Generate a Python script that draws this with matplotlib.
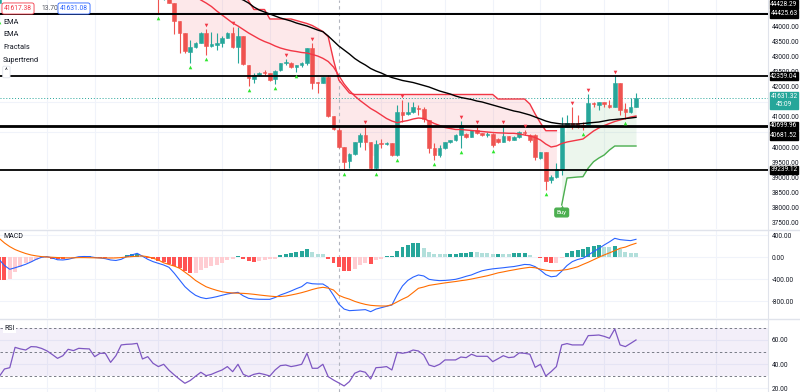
import matplotlib
matplotlib.use("Agg")
import matplotlib.pyplot as plt
import matplotlib.transforms as mtransforms
from matplotlib.lines import Line2D
from matplotlib.ticker import FormatStrFormatter

plt.rcParams['font.family'] = ['Roboto', 'DejaVu Sans']

# ---------------- data ----------------
candle_idx = [0] + list(range(30, 121))
opens = [44780,
         45050, 44980, 45080, 44784, 44186, 43787, 43156, 43322, 43455, 43787,
         43356, 43389, 43455, 43621, 43787, 43322, 43688, 42724, 42260, 42392,
         42490, 42459, 42260, 42558, 42791, 42791, 42658, 42724, 42791, 43289,
         42160, 42127, 42326, 41031, 40565, 40000, 39535, 39768, 40166, 40399,
         40166, 39303, 40133, 40100, 40133, 39735, 41163, 41097, 41163, 41296,
         41263, 40898, 39967, 39735, 39967, 40166, 40233, 40399, 40432, 40333,
         40565, 40466, 40399, 40433, 40266, 40166, 40366, 40233, 40333, 40499,
         40399, 40399, 39620, 39835, 38904, 39004, 39237, 40665, 40798, 40798,
         40720, 40731, 41462, 41400, 41495, 41396, 41329, 42127, 41263, 41163,
         41329]
highs = [45100,
         45200, 45150, 45120, 44800, 44190, 43800, 43555, 43489, 43821, 43920,
         43821, 43787, 43688, 43821, 43987, 43987, 43700, 42740, 42459, 42490,
         42558, 42470, 42558, 42800, 42924, 42824, 42740, 42824, 43300, 43455,
         42160, 42340, 42392, 41040, 40632, 40010, 39800, 40180, 40466, 40698,
         40180, 40233, 40266, 40166, 40150, 41396, 41562, 41500, 41495, 41396,
         41329, 40910, 40133, 40067, 40180, 40250, 40420, 40864, 40450, 40580,
         40698, 40480, 40499, 40450, 40290, 40698, 40380, 40350, 40540, 40565,
         40430, 40420, 39840, 39850, 39071, 39469, 40998, 41063, 41329, 41063,
         40831, 41761, 41495, 41500, 41510, 41562, 42359, 42140, 41462, 41628,
         41795]
lows = [44290,
        44430, 44900, 44770, 43754, 43123, 43123, 42791, 43289, 43440, 43057,
        43322, 43223, 43322, 43610, 43289, 42791, 42724, 42027, 42127, 42360,
        42392, 42200, 42093, 42540, 42724, 42640, 42492, 42658, 42724, 41927,
        41794, 42127, 40998, 40580, 39967, 39239, 39303, 39750, 40000, 39901,
        39280, 39239, 39967, 40067, 39700, 39702, 40831, 41063, 41130, 41063,
        40831, 39800, 39569, 39668, 39950, 40150, 40200, 39967, 40300, 40320,
        40432, 40380, 40333, 40000, 40150, 40166, 40200, 40220, 40300, 40400,
        40166, 39569, 39600, 38572, 38800, 38970, 39071, 40650, 40599, 40630,
        40565, 40731, 41329, 41230, 41330, 41300, 41320, 41063, 40931, 41130,
        41320]
closes = [45000,
          44980, 45080, 44784, 44186, 43787, 43190, 43322, 43455, 43787, 43356,
          43422, 43455, 43621, 43787, 43322, 43688, 42758, 42293, 42392, 42459,
          42459, 42226, 42525, 42791, 42824, 42658, 42724, 42791, 43289, 42127,
          42127, 42326, 41031, 40599, 40000, 39502, 39768, 40166, 40399, 40166,
          39303, 40100, 40100, 40133, 39735, 41163, 41063, 41163, 41329, 41263,
          40931, 39967, 39735, 39967, 40166, 40233, 40399, 40731, 40333, 40565,
          40466, 40399, 40433, 40067, 40166, 40366, 40233, 40333, 40499, 40466,
          40233, 39668, 39820, 38871, 38990, 39270, 40665, 40798, 40731, 40665,
          40650, 41462, 41430, 41495, 41430, 41329, 42127, 41230, 41163, 41329,
          41631]

fractal_up_idx = [39, 44, 54, 59, 69, 76, 87, 90, 95, 99, 108, 111, 116]
fractal_down_idx = [0, 30, 36, 39, 47, 52, 56, 65, 71, 75, 82, 87, 93, 103, 110, 118]

ema_red_idx = list(range(36, 121))
ema_red = [45110, 45000, 44884, 44784, 44668, 44519, 44386, 44253, 44120, 44020,
           43904, 43788, 43688, 43588, 43505, 43439, 43356, 43289, 43240, 43200,
           43173, 43140, 43123, 43074, 43024, 42947, 42841, 42658, 42376, 42094,
           41878, 41695, 41545, 41413, 41280, 41180, 41064, 40947, 40864, 40808,
           40848, 40881, 40931, 40964, 40947, 40864, 40781, 40715, 40648, 40615,
           40582, 40582, 40565, 40549, 40532, 40516, 40499, 40482, 40472, 40466,
           40456, 40456, 40433, 40399, 40366, 40316, 40233, 40100, 40001, 40034,
           40117, 40167, 40200, 40233, 40266, 40399, 40532, 40632, 40715, 40781,
           40848, 40898, 40947, 40997, 41031]
ema_black_idx = list(range(44, 121))
ema_black = [45000, 44950, 44884, 44784, 44651, 44552, 44485, 44419, 44352, 44286,
             44236, 44186, 44120, 44070, 44020, 43954, 43887, 43831, 43688, 43522,
             43356, 43223, 43090, 42941, 42824, 42725, 42608, 42525, 42459, 42376,
             42309, 42260, 42210, 42177, 42143, 42094, 42044, 41994, 41927, 41861,
             41811, 41761, 41695, 41645, 41612, 41579, 41529, 41496, 41446, 41396,
             41346, 41296, 41246, 41197, 41163, 41114, 41064, 40997, 40931, 40864,
             40815, 40788, 40765, 40765, 40765, 40765, 40781, 40798, 40815, 40831,
             40864, 40898, 40914, 40931, 40947, 40964, 40987]

st_down_idx = list(range(30, 106))
st_down = ([45400] * 15 +
           [45300, 45100, 44851, 44568, 44568, 44568, 44253, 44253, 44253, 44253,
            44253, 44203, 44153, 44103, 44037, 43937, 43838, 43665, 42891, 42226,
            42010, 41795] +
           [41745] * 27 + [41595] * 6 +
           [41429, 41097, 40798, 40542, 40542, 40542])
st_up_idx = list(range(106, 121))
st_up = [38074, 38971, 38987, 39004, 39014, 39303, 39512, 39635, 39735, 39901,
         40034, 40034, 40034, 40034, 40034]

hlines = [44428.29, 44425.63, 42359.04, 40699.96, 40681.52, 39239.12]
last_price = 41631.32
countdown = "45:09"
bid, spread, ask = "41617.38", "13.70", "41631.08"
crosshair_idx = 64
day_idx = [9, 18, 30, 42, 51, 60, 72, 84, 93, 102, 114, 126, 135]
price_ticks = [37500, 38000, 38500, 39000, 39500, 40000, 41000, 42000, 42500,
               43000, 43500, 44000]
price_grid = list(range(37500, 45000, 500))

ind_idx = list(range(0, 121))
macd = [-40, -150, -218, -190, -160, -127, -85, -36, 0, 12,
        -12, -45, -49, -37, -12, 10, 14, 12, -4, -12,
        -25, -49, -58, -37, 12, 42, 72, 20, -37, -79,
        -110, -140, -182, -290, -412, -533, -620, -690, -730, -750,
        -735, -715, -690, -666, -650, -636, -700, -745, -757, -762,
        -763, -763, -730, -684, -650, -612, -570, -533, -460, -480,
        -485, -485, -545, -690, -850, -940, -969, -963, -957, -950,
        -987, -940, -915, -890, -866, -680, -520, -420, -360, -321,
        -339, -400, -415, -424, -420, -412, -400, -375, -345, -320,
        -280, -245, -225, -210, -200, -190, -178, -168, -150, -130,
        -135, -170, -235, -314, -354, -342, -253, -150, -79, -40,
        -18, 40, 102, 160, 223, 280, 344, 320, 310, 302, 326]
signal = [344, 260, 193, 140, 102, 68, 42, 25, 12, 5,
          0, -5, -10, -12, -10, -6, -6, -8, -10, -12,
          -12, -14, -12, -5, 5, 12, 20, 24, 10, -18,
          -50, -100, -130, -160, -200, -270, -340, -420, -480, -535,
          -570, -600, -625, -640, -648, -652, -655, -662, -672, -684,
          -695, -705, -713, -712, -703, -685, -665, -642, -615, -585,
          -560, -545, -560, -594, -690, -730, -760, -800, -830, -855,
          -872, -880, -884, -884, -860, -810, -760, -715, -640, -563,
          -540, -510, -495, -480, -465, -452, -440, -425, -412, -395,
          -375, -355, -335, -310, -283, -265, -245, -228, -210, -195,
          -182, -190, -215, -235, -245, -245, -235, -223, -200, -173,
          -130, -90, -45, 0, 42, 80, 120, 163, 185, 223, 254]
hist = [-412, -412, -394, -261, -170, -110, -79, -49, -18, -6,
        -24, -37, -40, -20, -10, 12, 24, 26, 12, -10,
        -14, -12, -8, 10, 36, 54, 60, 24, -12, -36,
        -60, -85, -121, -157, -200, -242, -290, -278, -230, -200,
        -157, -133, -97, -42, -30, 18, -24, -60, -79, -60,
        -42, -36, -24, 36, 60, 85, 97, 109, 151, 91,
        60, 54, -24, -97, -170, -242, -245, -218, -133, -110,
        -127, -48, -24, 18, 30, 121, 181, 223, 253, 266,
        163, 102, 60, 60, 60, 62, 66, 75, 84, 97,
        97, 84, 72, 60, 62, 60, 58, 70, 72, 74,
        42, 12, -18, -79, -109, -97, -18, 73, 121, 133,
        145, 181, 211, 218, 181, 181, 205, 145, 96, 84, 84]
rsi = [29.7, 36.0, 37.1, 53.9, 52.6, 51.7, 54.5, 54.3, 53.0, 51.0,
       48.0, 44.8, 47.0, 52.3, 51.2, 53.1, 52.8, 52.6, 46.2, 49.0,
       49.0, 41.5, 47.0, 55.9, 56.4, 56.6, 57.2, 44.3, 46.2, 40.7,
       38.0, 39.9, 35.0, 31.1, 27.5, 24.2, 26.5, 30.0, 33.3, 30.5,
       31.6, 33.5, 35.2, 38.0, 33.8, 39.9, 31.6, 29.7, 31.6, 32.5,
       31.5, 30.2, 35.2, 38.8, 39.3, 38.0, 38.8, 39.9, 49.0, 36.6,
       36.6, 39.9, 29.7, 26.9, 24.5, 22.0, 25.6, 32.5, 34.4, 33.3,
       27.8, 37.1, 37.4, 38.0, 35.2, 49.8, 49.0, 49.8, 51.7, 50.9,
       47.6, 39.3, 38.0, 39.9, 43.5, 43.5, 43.5, 45.9, 45.4, 48.2,
       46.5, 46.5, 46.5, 42.1, 44.5, 47.0, 45.4, 45.9, 49.3, 49.0,
       48.2, 37.4, 39.9, 30.2, 33.8, 38.0, 55.9, 57.0, 55.9, 55.9,
       55.9, 63.6, 63.8, 64.1, 63.0, 61.4, 69.1, 55.9, 54.5, 57.2, 60.0]

# ---------------- styling ----------------
TEAL, RED = '#26a69a', '#ef5350'
GRID = '#f0f3fa'
TXT = '#131722'
W, H = 800, 392
PLOT_W = 768
STEP = 5.307
X0 = -0.84
FS = 4.7

fig = plt.figure(figsize=(W / 100, H / 100), dpi=100)
fig.patch.set_facecolor('white')


def rect(top, bottom):
    return [0, 1 - bottom / H, PLOT_W / W, (bottom - top) / H]


ax_p = fig.add_axes(rect(0, 229))
ax_m = fig.add_axes(rect(230, 318))
ax_r = fig.add_axes(rect(320, 392))
xlim = ((0 - X0) / STEP, (PLOT_W - X0) / STEP)

for ax in (ax_p, ax_m, ax_r):
    ax.set_xlim(*xlim)
    for s in ('top', 'left', 'bottom'):
        ax.spines[s].set_visible(False)
    ax.spines['right'].set_color('#e0e3eb')
    ax.spines['right'].set_linewidth(0.8)
    ax.yaxis.tick_right()
    ax.yaxis.set_major_formatter(FormatStrFormatter('%.2f'))
    ax.tick_params(axis='y', which='both', length=0, pad=2.8, labelsize=FS,
                   labelcolor=TXT)
    ax.tick_params(axis='x', length=0, labelbottom=False)
    ax.set_xticks(day_idx)
    ax.grid(True, axis='x', color=GRID, lw=0.8)
    ax.set_axisbelow(True)
    ax.axvline(crosshair_idx, color='#b2b5be', lw=0.8, ls=(0, (3, 3)), zorder=1.5)

# ---- price pane ----
ax_p.set_ylim(37277, 44884)
ax_p.set_yticks(price_ticks)
ax_p.set_yticks(price_grid, minor=True)
ax_p.grid(True, axis='y', which='minor', color=GRID, lw=0.8)

mid = {i: (o + c) / 2 for i, o, c in zip(candle_idx, opens, closes)}
ax_p.fill_between(st_down_idx, st_down, [mid[i] for i in st_down_idx],
                  color='#f23645', alpha=0.11, lw=0, zorder=1)
ax_p.fill_between(st_up_idx, st_up, [mid[i] for i in st_up_idx],
                  color='#4caf50', alpha=0.10, lw=0, zorder=1)

cols = [TEAL if c >= o else RED for o, c in zip(opens, closes)]
ax_p.vlines(candle_idx, lows, highs, colors=cols, lw=0.8, zorder=3)
ax_p.bar(candle_idx, [abs(c - o) for o, c in zip(opens, closes)],
         bottom=[min(o, c) for o, c in zip(opens, closes)], width=0.68,
         color=cols, edgecolor=cols, linewidth=0.4, zorder=4)

ax_p.axhline(last_price, color=TEAL, lw=0.7, ls=(0, (1, 2)), zorder=2)

ax_p.plot(st_down_idx, st_down, color='#f23645', lw=1.0, zorder=5)
ax_p.plot(st_up_idx, st_up, color='#4caf50', lw=1.0, zorder=5)
ax_p.plot(ema_red_idx, ema_red, color='#f23645', lw=1.0, zorder=5)
ax_p.plot(ema_black_idx, ema_black, color='black', lw=1.0, zorder=5)

for v in hlines:
    ax_p.axhline(v, color='black', lw=1.3, zorder=6)

high_of = dict(zip(candle_idx, highs))
low_of = dict(zip(candle_idx, lows))
up_tr = mtransforms.offset_copy(ax_p.transData, fig=fig, x=0, y=4, units='dots')
dn_tr = mtransforms.offset_copy(ax_p.transData, fig=fig, x=0, y=-4, units='dots')
ax_p.plot(fractal_up_idx, [high_of[i] for i in fractal_up_idx], ls='none',
          marker='v', ms=2.6, color='#f23645', mew=0, transform=up_tr, zorder=7)
ax_p.plot(fractal_down_idx, [low_of[i] for i in fractal_down_idx], ls='none',
          marker='^', ms=2.6, color='#2ee62e', mew=0, transform=dn_tr, zorder=7)

# Buy label
tri_tr = mtransforms.offset_copy(ax_p.transData, fig=fig, x=0, y=-2, units='dots')
ax_p.plot([st_up_idx[0]], [st_up[0]], marker='^', ms=3, color='#4caf50', mew=0,
          transform=tri_tr, zorder=8)
ax_p.annotate('Buy', xy=(st_up_idx[0], st_up[0]), xytext=(0, -7.5),
              textcoords='offset pixels', ha='center', va='center', fontsize=4.4,
              color='white', zorder=8,
              bbox=dict(boxstyle='round,pad=0.3,rounding_size=0.25', fc='#4caf50', ec='#4caf50'))


def price_box(ax, value, text, fc, dy=0):
    ax.annotate(text, xy=(1, value), xycoords=('axes fraction', 'data'),
                xytext=(16, dy), textcoords='offset pixels', ha='center', va='center',
                fontsize=FS, color='white', annotation_clip=False, zorder=20,
                bbox=dict(boxstyle='square,pad=0.12', fc=fc, ec=fc))


box_shift = {44428.29: 9.5, 40681.52: -9}
for v in hlines:
    price_box(ax_p, v, f"{v:.2f}", 'black', box_shift.get(v, 0))
price_box(ax_p, last_price, f"{last_price:.2f}\n{countdown}", TEAL, -2.5)

# ---- MACD pane ----
ax_m.set_ylim(-1102, 495)
ax_m.set_yticks([-800, -400, 0, 400])
ax_m.grid(True, axis='y', color=GRID, lw=0.8)
hcols = []
prev = None
for h in hist:
    p = h + 1 if prev is None else prev
    if h >= 0:
        hcols.append('#26a69a' if h > p else '#b2dfdb')
    else:
        hcols.append('#ffcdd2' if h > p else '#ff5252')
    prev = h
ax_m.bar(ind_idx, hist, width=0.75, color=hcols, lw=0, zorder=2)
ax_m.plot(ind_idx, macd, color='#2962ff', lw=0.8, zorder=3)
ax_m.plot(ind_idx, signal, color='#ff6d00', lw=0.8, zorder=3)

# ---- RSI pane ----
ax_r.set_ylim(17, 76.5)
ax_r.set_yticks([20, 40, 60])
ax_r.grid(True, axis='y', color=GRID, lw=0.8)
ax_r.axhspan(30, 70, color='#7e57c2', alpha=0.09, lw=0, zorder=1)
for lvl in (70, 50, 30):
    ax_r.axhline(lvl, color='#787b86', lw=0.7, ls=(0, (2.5, 2.5)), zorder=2)
ax_r.plot(ind_idx, rsi, color='#7e57c2', lw=0.9, zorder=3)

# ---- pane separators ----
for yp in (229.5, 319):
    fig.add_artist(Line2D([0, 1], [1 - yp / H] * 2, transform=fig.transFigure,
                          color='#e0e3eb', lw=1))


def ftext(x, y, s, **kw):
    kw.setdefault('fontsize', FS + 0.2)
    kw.setdefault('color', TXT)
    kw.setdefault('va', 'center')
    fig.text(x / W, 1 - y / H, s, **kw)


ftext(4, 8.5, bid, color='#f23645',
      bbox=dict(boxstyle='round,pad=0.3,rounding_size=0.3', fc='white', ec='#f23645', lw=0.6))
ftext(41, 8.5, spread, color='#50535e')
ftext(60, 8.5, ask, color='#2962ff',
      bbox=dict(boxstyle='round,pad=0.3,rounding_size=0.3', fc='white', ec='#2962ff', lw=0.6))
for yy, s in ((23, 'EMA'), (35, 'EMA'), (47.5, 'Fractals'), (60, 'Supertrend')):
    ftext(3, yy, s, fontsize=5.3)
ftext(5, 72, '^', fontsize=FS,
      bbox=dict(boxstyle='round,pad=0.35,rounding_size=0.2', fc='white', ec='#e0e3eb', lw=0.6))
ftext(3, 237, 'MACD', fontsize=5.0)
ftext(4, 328.5, 'RSI', fontsize=5.0,
      bbox=dict(boxstyle='square,pad=0.2', fc='white', ec='none'))

fig.savefig('out.png', dpi=100, facecolor='white')
